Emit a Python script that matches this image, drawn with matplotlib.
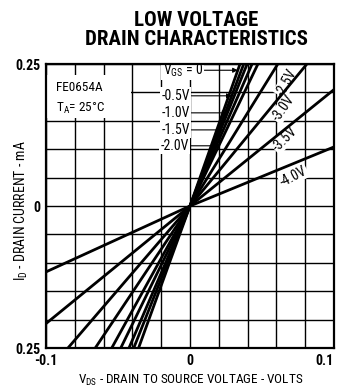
import matplotlib
matplotlib.use("Agg")
import matplotlib.pyplot as plt
from matplotlib import font_manager
from matplotlib.patches import Rectangle


def pick_font(cands):
    for c in cands:
        try:
            font_manager.findfont(font_manager.FontProperties(family=c),
                                  fallback_to_default=False)
            return c
        except ValueError:
            pass
    return 'DejaVu Sans'


FONT = pick_font(['Roboto Condensed', 'Archivo Narrow', 'PT Sans Narrow',
                  'Fira Sans Condensed', 'Liberation Sans Narrow'])
plt.rcParams['font.family'] = [FONT, 'DejaVu Sans']
plt.rcParams['mathtext.fontset'] = 'custom'
plt.rcParams['mathtext.rm'] = FONT
plt.rcParams['mathtext.default'] = 'rm'

# drain voltage points (V) and drain current (mA) per gate voltage
vds = [-0.1, 0.0, 0.1]
vgs_labels = ['0', '-0.5V', '-1.0V', '-1.5V', '-2.0V', '-2.5V', '-3.0V', '-3.5V', '-4.0V']
id_curves = [
    [-0.700, 0.0, 0.720],
    [-0.640, 0.0, 0.670],
    [-0.590, 0.0, 0.630],
    [-0.520, 0.0, 0.580],
    [-0.460, 0.0, 0.530],
    [-0.380, 0.0, 0.410],
    [-0.295, 0.0, 0.308],
    [-0.207, 0.0, 0.205],
    [-0.116, 0.0, 0.104],
]

x_grid = [-0.1 + 0.02 * i for i in range(11)]
y_grid = [-0.25 + 0.05 * i for i in range(11)]
x_ticks = [-0.1, 0.0, 0.1]
x_ticklabels = ['-0.1', '0', '0.1']
y_ticks = [-0.25, 0.0, 0.25]
y_ticklabels = ['0.25', '0', '0.25']

fig = plt.figure(figsize=(3.39, 3.92), dpi=100)
ax = fig.add_axes([46 / 339, 1 - 348 / 392, 288 / 339, 284 / 392])
ax.set_xlim(-0.1, 0.1)
ax.set_ylim(-0.25, 0.25)

ax.set_xticks(x_grid, minor=True)
ax.set_yticks(y_grid, minor=True)
ax.set_xticks(x_ticks)
ax.set_xticklabels(x_ticklabels, fontsize=10, fontweight='bold')
ax.set_yticks(y_ticks)
ax.set_yticklabels(y_ticklabels, fontsize=10, fontweight='bold')
ax.get_xticklabels()[-1].set_horizontalalignment('right')
ax.get_xticklabels()[-1].set_x(0.1035)
ax.tick_params(which='both', length=0, pad=4)
ax.grid(which='both', color='black', lw=1.0)
for s in ax.spines.values():
    s.set_linewidth(1.6)

for cur in id_curves:
    ax.plot(vds, cur, color='black', lw=2.0, zorder=3, solid_capstyle='butt')

# white label box in upper left
ax.add_patch(Rectangle((-0.0993, 0.155), 0.058, 0.076, facecolor='white',
                       edgecolor='none', zorder=2))
ax.text(-0.093, 0.208, 'FE0654A', fontsize=9.5, va='center', ha='left', zorder=2.5)
ax.text(-0.093, 0.172, 'T$_A$= 25°C', fontsize=9.5, va='center', ha='left', zorder=2.5)

# arrowed labels for the steep curves
label_y = [0.239, 0.194, 0.164, 0.134, 0.106]
label_x = [0.009, 0.0, 0.0, 0.0, -0.001]
for k, yy in enumerate(label_y):
    slope = id_curves[k][2] / vds[2]
    txt = 'V$_{GS}$ = 0' if k == 0 else vgs_labels[k]
    ax.annotate(txt, xy=(yy / slope, yy), xytext=(label_x[k], yy),
                fontsize=10, ha='right', va='center', zorder=2.5,
                bbox=dict(boxstyle='square,pad=0.1', fc='white', ec='none'),
                arrowprops=dict(arrowstyle='-|>', lw=0.8, color='black',
                                mutation_scale=7, shrinkA=0, shrinkB=0))

# rotated labels for the flatter curves
rot_pos = [(0.067, 0.218, 62), (0.065, 0.172, 55), (0.066, 0.118, 45), (0.072, 0.052, 28)]
for k, (xx, yy, rot) in zip(range(5, 9), rot_pos):
    ax.text(xx, yy, vgs_labels[k], fontsize=10, rotation=rot, ha='center',
            va='center', zorder=2.5,
            bbox=dict(boxstyle='square,pad=0.05', fc='white', ec='none'))

fig.text(196 / 339, 1 - 30 / 392, 'LOW VOLTAGE\nDRAIN CHARACTERISTICS',
         ha='center', va='center', fontsize=15, fontweight='bold',
         linespacing=0.95)
fig.text(191 / 339, 1 - 380 / 392, 'V$_{DS}$ - DRAIN TO SOURCE VOLTAGE - VOLTS',
         ha='center', va='center', fontsize=9.5)
fig.text(21 / 339, 1 - 211 / 392, 'I$_D$ - DRAIN CURRENT - mA',
         ha='center', va='center', fontsize=10, rotation=90)

fig.savefig('out.png', dpi=100)
